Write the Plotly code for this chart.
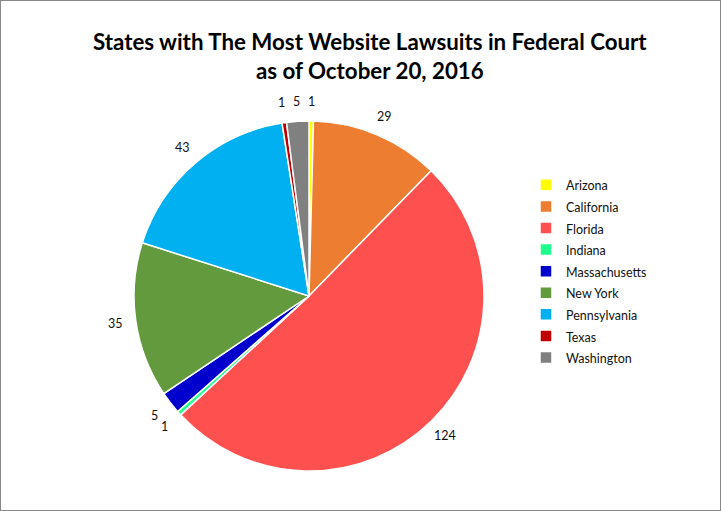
import math
import plotly.graph_objects as go

states = ["Arizona", "California", "Florida", "Indiana", "Massachusetts",
          "New York", "Pennsylvania", "Texas", "Washington"]
lawsuits = [1, 29, 124, 1, 5, 35, 43, 1, 5]
colors = ["#FFFF00", "#ED7D31", "#FF5050", "#1EFF8E", "#0000CC",
          "#629A3D", "#00B0F0", "#C00000", "#808080"]

W, H = 721, 511
CX, CY, R = 309, 296, 175      # pie centre and radius in pixels
LABEL_R = R + 20               # distance of value labels from centre
FONT = "Lato, Noto Sans, sans-serif"

legend_labels = [f"<span style='font-size:12.5px'>{s}</span>" for s in states]

fig = go.Figure(go.Pie(
    labels=legend_labels,
    values=lawsuits,
    sort=False,
    direction="clockwise",
    rotation=0,
    marker=dict(colors=colors, line=dict(color="white", width=1.5)),
    textinfo="none",
    hoverinfo="label+value",
    domain=dict(x=[(CX - R) / W, (CX + R) / W], y=[1 - (CY + R) / H, 1 - (CY - R) / H]),
    showlegend=True,
))

# value labels placed outside each slice, at the slice's mid angle
total = sum(lawsuits)
cum = 0
annotations = []
for v in lawsuits:
    theta = 2 * math.pi * (cum + v / 2) / total
    cum += v
    px = CX + LABEL_R * math.sin(theta)
    py = CY - LABEL_R * math.cos(theta)
    annotations.append(dict(
        x=px / W, y=1 - py / H, xref="paper", yref="paper",
        text=str(v), showarrow=False, xanchor="center", yanchor="middle",
        font=dict(family=FONT, size=12.5, color="#111111"),
    ))

annotations.append(dict(
    x=369.5 / W, y=1 - 56 / H, xref="paper", yref="paper",
    text="<b>States with The Most Website Lawsuits in Federal Court<br>as of October 20, 2016</b>",
    showarrow=False, xanchor="center", yanchor="middle",
    font=dict(family=FONT, size=22.3, color="black"),
))

fig.update_layout(
    width=W, height=H,
    margin=dict(l=0, r=0, t=0, b=0),
    paper_bgcolor="white",
    annotations=annotations,
    legend=dict(
        x=526 / W, xanchor="left", y=1 - 169 / H, yanchor="top",
        font=dict(family=FONT, size=14.3, color="#111111"),
        itemwidth=30,
    ),
    shapes=[dict(type="rect", xref="paper", yref="paper", x0=0, x1=1, y0=0, y1=1,
                 line=dict(color="#888888", width=2))],
)

fig.write_html(
    "out.html",
    config={"displayModeBar": False},
    post_script="document.body.style.margin='0';document.body.style.overflow='hidden';",
)
